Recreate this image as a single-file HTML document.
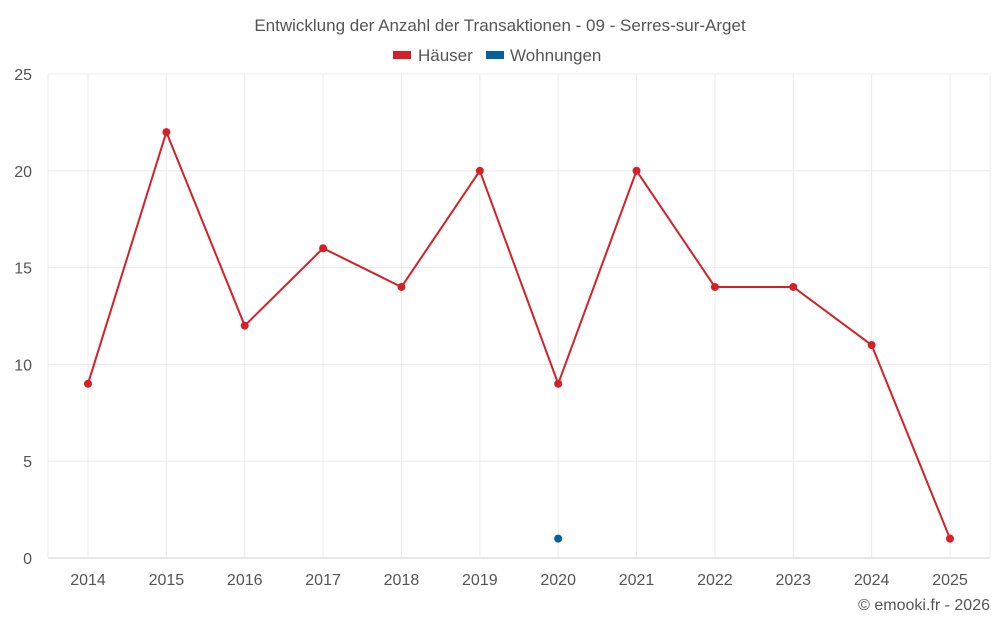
<!DOCTYPE html>
<html><head><meta charset="utf-8"><style>
body{margin:0;background:#fff;font-family:"Liberation Sans",sans-serif;}
svg text{font-family:"Liberation Sans",sans-serif;}
</style></head><body>
<svg id="chart" width="1000" height="625">
<text x="500" y="31" text-anchor="middle" font-size="17" fill="#555">Entwicklung der Anzahl der Transaktionen - 09 - Serres-sur-Arget</text>
<g>
<g><rect x="393" y="51" width="18" height="8" fill="#d62027"/><text x="418" y="61" font-size="17" fill="#555">Häuser</text></g>
<g><rect x="486" y="51" width="18" height="8" fill="#07609e"/><text x="510" y="61" font-size="17" fill="#555">Wohnungen</text></g>
</g>
<g id="grid"></g><g id="axes"></g><g id="series"></g>
<text x="990" y="610" text-anchor="end" font-size="16" fill="#555">© emooki.fr - 2026</text>
</svg>
<script>
const years=[2014,2015,2016,2017,2018,2019,2020,2021,2022,2023,2024,2025];
const haeuser=[9,22,12,16,14,20,9,20,14,14,11,1];
const wohnungen=[null,null,null,null,null,null,1,null,null,null,null,null];
const yTicks=[0,5,10,15,20,25];
const NS="http://www.w3.org/2000/svg";
const x=i=>88+i*(950-88)/(years.length-1);
const y=v=>558-v*(558-74)/25;
function mk(p,t,a){const e=document.createElementNS(NS,t);for(const k in a)e.setAttribute(k,a[k]);document.getElementById(p).appendChild(e);return e;}
yTicks.forEach(t=>{
 const l=mk('grid','line',{x1:48,x2:990,y1:y(t),y2:y(t),stroke:t===0?'#ccc':'#ebebeb'});
 
 
 const tx=mk('axes','text',{x:32,y:y(t)+6,'text-anchor':'end','font-size':16,fill:'#555'});tx.textContent=t;
 
 
});
[48,990].forEach(xx=>{const l=mk('grid','line',{x1:xx,x2:xx,y1:74,y2:558,stroke:'#ebebeb'});
 
 });
years.forEach((yr,i)=>{
 const l=mk('grid','line',{x1:x(i),x2:x(i),y1:74,y2:558,stroke:'#ebebeb'});
 
 
 const tx=mk('axes','text',{x:x(i),y:585,'text-anchor':'middle','font-size':16,fill:'#555'});tx.textContent=yr;
 
 
});
const pts=haeuser.map((v,i)=>x(i)+','+y(v)).join(' ');
const pl=mk('series','polyline',{points:pts,fill:'none',stroke:'#d62027','stroke-width':2});


haeuser.forEach((v,i)=>{const c=mk('series','circle',{cx:x(i),cy:y(v),r:4,fill:'#d62027'});
 
 });
wohnungen.forEach((v,i)=>{if(v==null)return;const c=mk('series','circle',{cx:x(i),cy:y(v),r:4,fill:'#07609e'});
 
 });
</script>
</body></html>
